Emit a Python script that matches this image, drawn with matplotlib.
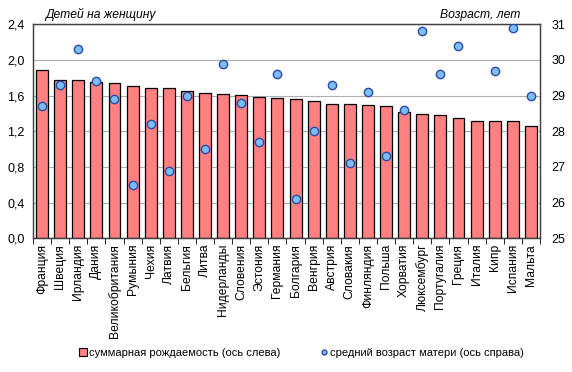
import numpy as np
import matplotlib
matplotlib.use("Agg")
import matplotlib.pyplot as plt
from matplotlib.lines import Line2D
from matplotlib.patches import Patch
from matplotlib.ticker import FuncFormatter

plt.rcParams['font.family'] = ['Liberation Sans', 'DejaVu Sans']

countries = ["Франция", "Швеция", "Ирландия", "Дания", "Великобритания", "Румыния",
             "Чехия", "Латвия", "Бельгия", "Литва", "Нидерланды", "Словения",
             "Эстония", "Германия", "Болгария", "Венгрия", "Австрия", "Словакия",
             "Финляндия", "Польша", "Хорватия", "Люксембург", "Португалия", "Греция",
             "Италия", "Кипр", "Испания", "Мальта"]
fertility = [1.89, 1.78, 1.77, 1.75, 1.74, 1.71, 1.69, 1.69, 1.65, 1.63, 1.62, 1.61,
             1.59, 1.57, 1.56, 1.54, 1.51, 1.51, 1.49, 1.48, 1.42, 1.39, 1.38, 1.35,
             1.32, 1.32, 1.31, 1.26]
mother_age = [28.7, 29.3, 30.3, 29.4, 28.9, 26.5, 28.2, 26.9, 29.0, 27.5, 29.9, 28.8,
              27.7, 29.6, 26.1, 28.0, 29.3, 27.1, 29.1, 27.3, 28.6, 30.8, 29.6, 30.4,
              np.nan, 29.7, 30.9, 29.0]

fig = plt.figure(figsize=(5.72, 3.72), dpi=100)
ax = fig.add_axes([0.0577, 0.3594, 0.8863, 0.5753])
x = np.arange(len(countries))

ax.bar(x, fertility, width=0.66, color="#FF8080", edgecolor="black", linewidth=0.9, zorder=2)
ax.set_ylim(0, 2.4)
ax.set_xlim(-0.5, len(countries) - 0.5)
ax.set_yticks(np.arange(0, 2.41, 0.4))
ax.yaxis.set_major_formatter(FuncFormatter(lambda v, p: f"{v:.1f}".replace(".", ",")))
ax.grid(axis="y", color="#B0B0B0", linewidth=0.8, zorder=0)
ax.set_axisbelow(True)
ax.set_xticks(x)
ax.set_xticklabels(countries, rotation=90, fontsize=8.7)
ax.tick_params(axis="x", length=0, pad=4)
ax.set_xticks(np.arange(-0.5, len(countries), 1), minor=True)
ax.tick_params(axis="x", which="minor", length=4, color="black")
ax.tick_params(axis="y", labelsize=9, length=0, pad=6)
for s in ax.spines.values():
    s.set_color("#404040")
    s.set_linewidth(0.9)

ax2 = ax.twinx()
ax2.scatter(x, mother_age, s=36, color="#7DBDF5", edgecolor="#2A4BA8", linewidth=1, zorder=3)
ax2.set_ylim(25, 31)
ax2.set_yticks(range(25, 32))
ax2.tick_params(axis="y", labelsize=9, length=0, pad=8)
for s in ax2.spines.values():
    s.set_color("#404040")
    s.set_linewidth(0.9)

fig.text(0.079, 0.96, "Детей на женщину", fontsize=8.7, style="italic", va="center")
fig.text(0.91, 0.96, "Возраст, лет", fontsize=8.7, style="italic", va="center", ha="right")

handles = [Patch(facecolor="#FF8080", edgecolor="black", linewidth=0.8),
           Line2D([], [], marker="o", linestyle="", markersize=3.5,
                  markerfacecolor="#7DBDF5", markeredgecolor="#2A4BA8")]
labels = ["суммарная рождаемость (ось слева)", "средний возраст матери (ось справа)"]
fig.legend(handles, labels, loc="center", bbox_to_anchor=(0.527, 0.052), ncol=2,
           frameon=False, fontsize=8, handlelength=0.7, handleheight=0.7,
           handletextpad=0.2, columnspacing=3.5)

fig.savefig("out.png", dpi=100)
